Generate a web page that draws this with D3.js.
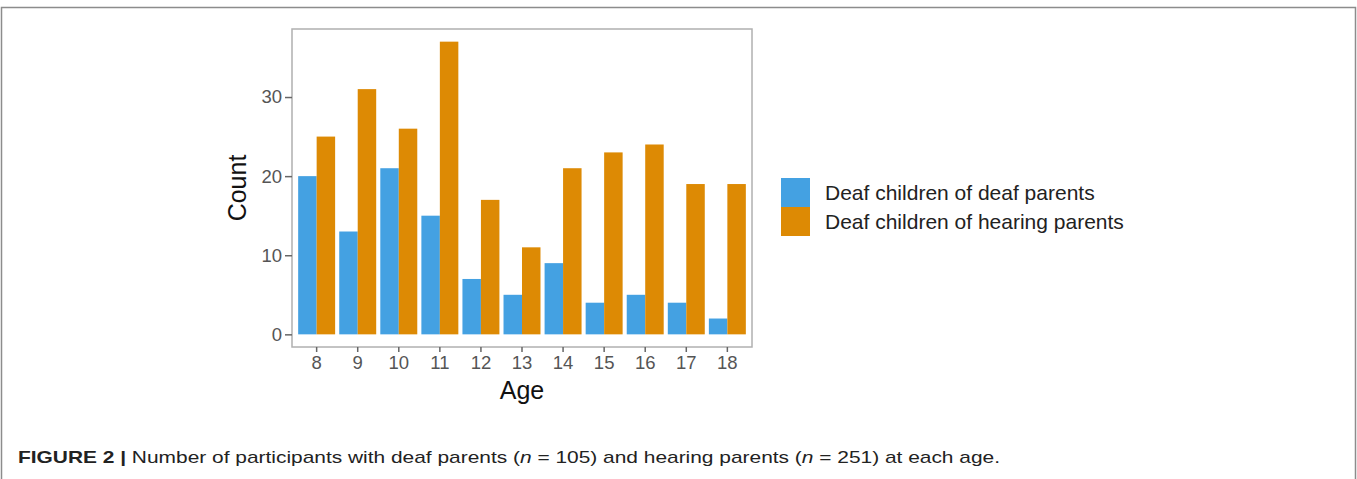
<!DOCTYPE html>
<html>
<head>
<meta charset="utf-8">
<script src="https://cdn.jsdelivr.net/npm/d3@7"></script>
<style>
  body { margin: 0; background: #fff; }
  text { font-family: "Liberation Sans", Arial, sans-serif; }
</style>
</head>
<body>
<div id="body"></div>
<script>
var ages = ["8", "9", "10", "11", "12", "13", "14", "15", "16", "17", "18"];
var deafParents = [20, 13, 21, 15, 7, 5, 9, 4, 5, 4, 2];
var hearingParents = [25, 31, 26, 37, 17, 11, 21, 23, 24, 19, 19];
var seriesNames = ["Deaf children of deaf parents", "Deaf children of hearing parents"];
var seriesColors = ["#44a1e2", "#dd8a04"];
var yTicks = [0, 10, 20, 30];

var W = 1357, H = 479;
var panel = {left: 292, right: 752, top: 29, bottom: 347};

var svg = d3.select("#body")
  .append("svg")
  .attr("width", W)
  .attr("height", H);

// outer figure frame (open at the bottom)
svg.append("path")
  .attr("d", "M1.5," + H + " V7.5 H1355.5 V" + H)
  .attr("fill", "none")
  .attr("stroke", "#8c8c8c")
  .attr("stroke-width", 1.5);

var x = d3.scaleBand()
  .domain(ages)
  .range([panel.left, panel.right])
  .paddingInner(0.1)
  .paddingOuter(0.15);

var xSub = d3.scaleBand()
  .domain([0, 1])
  .range([0, x.bandwidth()]);

var y = d3.scaleLinear()
  .domain([-1.6, 38.6])
  .range([panel.bottom, panel.top]);

var rows = ages.map(function(a, i) {
  return {age: a, values: [deafParents[i], hearingParents[i]]};
});

var groups = svg.selectAll("g.age")
  .data(rows)
  .enter().append("g")
  .attr("class", "age")
  .attr("transform", function(d) { return "translate(" + x(d.age) + ",0)"; });

groups.selectAll("rect")
  .data(function(d) { return d.values; })
  .enter().append("rect")
  .attr("x", function(d, i) { return xSub(i); })
  .attr("width", xSub.bandwidth())
  .attr("y", function(d) { return y(d); })
  .attr("height", function(d) { return y(0) - y(d); })
  .attr("fill", function(d, i) { return seriesColors[i]; });

// panel border
svg.append("rect")
  .attr("x", panel.left)
  .attr("y", panel.top)
  .attr("width", panel.right - panel.left)
  .attr("height", panel.bottom - panel.top)
  .attr("fill", "none")
  .attr("stroke", "#b0b0b0")
  .attr("stroke-width", 1.5);

var leftAxis = d3.axisLeft(y).tickValues(yTicks).tickSize(7).tickPadding(3);
var bottomAxis = d3.axisBottom(x).tickSize(5).tickPadding(4);

var gy = svg.append("g")
  .attr("transform", "translate(" + panel.left + ",0)")
  .call(leftAxis);
var gx = svg.append("g")
  .attr("transform", "translate(0," + panel.bottom + ")")
  .call(bottomAxis);

[gx, gy].forEach(function(g) {
  g.select(".domain").remove();
  g.selectAll(".tick line").attr("stroke", "#666").attr("stroke-width", 1.5);
  g.selectAll(".tick text")
    .attr("fill", "#555")
    .style("font-size", "18.5px")
    .style("font-family", "'Liberation Sans', Arial, sans-serif");
});

svg.append("text")
  .attr("transform", "translate(246," + ((panel.top + panel.bottom) / 2) + ") rotate(-90)")
  .attr("text-anchor", "middle")
  .style("font-size", "25px")
  .attr("fill", "#111")
  .text("Count");

svg.append("text")
  .attr("x", (panel.left + panel.right) / 2)
  .attr("y", 399)
  .attr("text-anchor", "middle")
  .style("font-size", "25px")
  .attr("fill", "#111")
  .text("Age");

// legend
var legend = svg.append("g").attr("transform", "translate(781,178)");
seriesNames.forEach(function(name, i) {
  legend.append("rect")
    .attr("x", 0)
    .attr("y", i * 29)
    .attr("width", 29)
    .attr("height", 29)
    .attr("fill", seriesColors[i]);
  legend.append("text")
    .attr("x", 44)
    .attr("y", i * 29 + 22)
    .style("font-size", "21px")
    .attr("fill", "#222")
    .text(name);
});

// caption
var cap = svg.append("text")
  .attr("x", 18)
  .attr("y", 463)
  .style("font-size", "17px")
  .attr("fill", "#222")
  .attr("textLength", 982)
  .attr("lengthAdjust", "spacingAndGlyphs");
cap.append("tspan").style("font-weight", "bold").text("FIGURE 2 | ");
cap.append("tspan").text("Number of participants with deaf parents (");
cap.append("tspan").style("font-style", "italic").text("n");
cap.append("tspan").text(" = 105) and hearing parents (");
cap.append("tspan").style("font-style", "italic").text("n");
cap.append("tspan").text(" = 251) at each age.");
</script>
</body>
</html>
